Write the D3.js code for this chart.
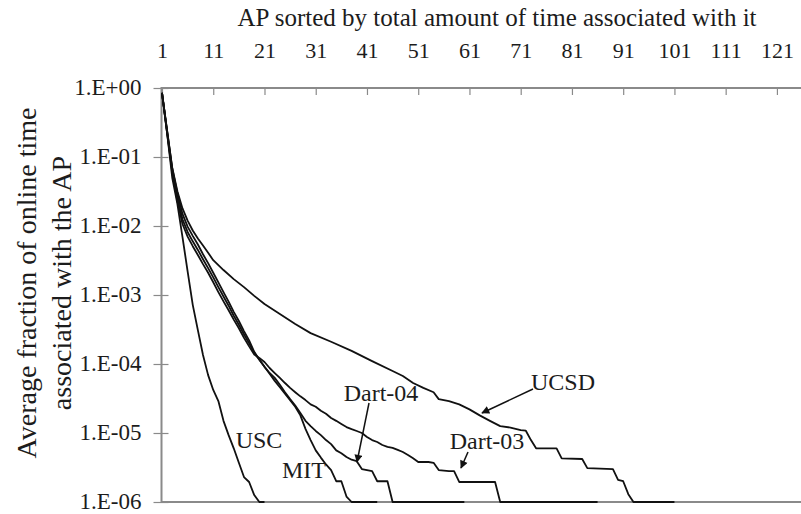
<!DOCTYPE html>
<html>
<head>
<meta charset="utf-8">
<script src="https://cdn.jsdelivr.net/npm/d3@7"></script>
<style>
  body { margin: 0; background: #fff; }
  svg { display: block; }
  svg text { font-family: "Liberation Serif", "DejaVu Serif", serif; }
</style>
</head>
<body>
<svg id="chart" width="801" height="514"></svg>
<script>
const xTicks = [1, 11, 21, 31, 41, 51, 61, 71, 81, 91, 101, 111, 121];
const yTicks = [1, 1e-1, 1e-2, 1e-3, 1e-4, 1e-5, 1e-6];

// AP rank -> average fraction of online time
const uscRank = [1, 2, 3, 4, 5, 6, 7, 8, 9, 10, 11, 12, 13, 14, 15, 16, 17, 18, 19, 20, 21];
const uscFrac = [0.85, 0.22, 0.05, 0.021, 6.9e-3, 2.2e-3, 7.2e-4, 3.1e-4, 1.35e-4, 6.9e-5, 4.2e-5,
  2.9e-5, 1.5e-5, 9.3e-6, 6.0e-6, 3.7e-6, 2.3e-6, 1.95e-6, 1.26e-6, 1e-6, 1e-6];

const mitRank = [1, 2, 3, 4, 5, 6, 7, 8, 9, 10, 11, 12, 13, 14, 15, 16, 17, 18, 19, 20,
  21, 22, 23, 24, 25, 26, 27, 28, 29, 30, 31, 32, 33, 34, 35, 36, 37, 38, 43];
const mitFrac = [0.85, 0.24, 0.068, 0.03, 0.015, 9.8e-3, 7.2e-3, 5.4e-3, 3.9e-3, 2.9e-3,
  2.1e-3, 1.52e-3, 1.1e-3, 8.0e-4, 5.7e-4, 4.2e-4, 3.0e-4, 2.2e-4, 1.5e-4, 1.15e-4,
  9.1e-5, 7.2e-5, 5.7e-5, 4.6e-5, 3.7e-5, 3.0e-5, 2.4e-5, 1.8e-5, 1.15e-5, 7.9e-6,
  5.6e-6, 4.4e-6, 3.5e-6, 2.9e-6, 2.0e-6, 2.0e-6, 1.2e-6, 1e-6, 1e-6];

const dart04Rank = [1, 2, 3, 4, 5, 6, 7, 8, 9, 10, 11, 12, 13, 14, 15, 16, 17, 18, 19, 20,
  21, 22, 23, 24, 25, 26, 27, 28, 29, 30, 31, 32, 33, 34, 35, 36, 37, 38, 39, 40,
  41, 42, 43, 44, 45, 46, 60];
const dart04Frac = [0.85, 0.23, 0.064, 0.026, 0.0125, 8.2e-3, 6.0e-3, 4.5e-3, 3.3e-3, 2.45e-3,
  1.8e-3, 1.3e-3, 9.5e-4, 7.0e-4, 5.0e-4, 3.7e-4, 2.7e-4, 2.0e-4, 1.45e-4, 1.15e-4,
  9.1e-5, 7.4e-5, 6.3e-5, 5.0e-5, 3.9e-5, 3.1e-5, 2.5e-5, 1.95e-5, 1.5e-5, 1.26e-5,
  1.07e-5, 9.3e-6, 7.9e-6, 6.9e-6, 5.6e-6, 5.1e-6, 4.5e-6, 4.1e-6, 3.9e-6, 3.0e-6,
  2.9e-6, 2.8e-6, 2.0e-6, 2.0e-6, 2.0e-6, 1e-6, 1e-6];

const dart03Rank = [1, 2, 3, 4, 5, 6, 7, 8, 9, 10, 11, 12, 13, 14, 15, 16, 17, 18, 19, 20,
  21, 22, 23, 24, 25, 26, 27, 28, 29, 30, 31, 32, 33, 34, 35, 36, 37, 38, 39, 40,
  41, 42, 43, 44, 45, 46, 47, 48, 49, 50, 51, 53, 54, 55, 57, 58, 59, 66, 67, 86];
const dart03Frac = [0.85, 0.22, 0.06, 0.023, 0.0107, 7.0e-3, 5.1e-3, 3.8e-3, 2.8e-3, 2.1e-3,
  1.53e-3, 1.1e-3, 8.1e-4, 6.0e-4, 4.4e-4, 3.3e-4, 2.4e-4, 1.8e-4, 1.37e-4, 1.22e-4,
  1.07e-4, 8.75e-5, 7.4e-5, 6.3e-5, 5.3e-5, 4.5e-5, 3.9e-5, 3.4e-5, 3.0e-5, 2.6e-5,
  2.4e-5, 2.1e-5, 1.9e-5, 1.65e-5, 1.5e-5, 1.35e-5, 1.22e-5, 1.14e-5, 1.07e-5, 1.0e-5,
  8.75e-6, 7.9e-6, 7.4e-6, 6.7e-6, 6.3e-6, 6.1e-6, 5.7e-6, 5.3e-6, 4.8e-6, 4.3e-6,
  3.8e-6, 3.8e-6, 3.7e-6, 2.9e-6, 2.8e-6, 2.8e-6, 1.95e-6, 1.95e-6, 1e-6, 1e-6];

const ucsdRank = [1, 2, 3, 4, 5, 6, 7, 8, 9, 10, 11, 13, 15, 17, 19, 21, 24, 27, 30, 34,
  38, 42, 46, 48, 50, 52, 54, 55, 57, 59, 61, 63, 65, 67, 69, 71, 72, 73, 74, 78,
  79, 83, 84, 89, 90, 91, 92, 93, 101];
const ucsdFrac = [0.85, 0.24, 0.07, 0.032, 0.018, 0.012, 8.6e-3, 6.6e-3, 5.2e-3, 4.1e-3,
  3.2e-3, 2.3e-3, 1.7e-3, 1.3e-3, 9.7e-4, 7.4e-4, 5.3e-4, 3.8e-4, 2.8e-4, 2.1e-4,
  1.55e-4, 1.1e-4, 7.9e-5, 6.7e-5, 5.3e-5, 4.5e-5, 3.9e-5, 3.1e-5, 2.9e-5, 2.6e-5,
  2.2e-5, 1.8e-5, 1.5e-5, 1.26e-5, 1.2e-5, 1.1e-5, 1.08e-5, 7.9e-6, 6.0e-6, 6.0e-6,
  4.3e-6, 4.2e-6, 3.1e-6, 3.0e-6, 2.1e-6, 2.0e-6, 1.3e-6, 1e-6, 1e-6];

const seriesNames = ["USC", "MIT", "Dart-04", "Dart-03", "UCSD"];
const seriesRanks = [uscRank, mitRank, dart04Rank, dart03Rank, ucsdRank];
const seriesFracs = [uscFrac, mitFrac, dart04Frac, dart03Frac, ucsdFrac];

const svg = d3.select("#chart");
const plotLeft = 161.5, plotTop = 88, plotBottom = 502, plotRight = 801;
const axisColor = "#8a8a8a";
const textColor = "#1c1c1c";
const serif = '"Liberation Serif", "DejaVu Serif", serif';

svg.append("rect").attr("width", 801).attr("height", 514).attr("fill", "#fff");

const x = d3.scaleLinear().domain([1, 125.7]).range([162, 801]);
const y = d3.scaleLog().domain([1, 1e-6]).range([plotTop, plotBottom]);

function fmtExp(v) {
  const e = Math.round(Math.log10(v));
  return "1.E" + (e < 0 ? "-" : "+") + String(Math.abs(e)).padStart(2, "0");
}

// top category axis
const gx = svg.append("g")
  .attr("transform", `translate(0,${plotTop})`)
  .call(d3.axisTop(x).tickValues(xTicks).tickSize(-7).tickPadding(30).tickFormat(d3.format("d")));
gx.attr("font-family", serif).attr("font-size", 22);
gx.select(".domain").remove();
gx.selectAll(".tick line").attr("stroke", axisColor).attr("stroke-width", 1.2);
gx.selectAll(".tick text").attr("fill", textColor);

// left log axis
const gy = svg.append("g")
  .attr("transform", `translate(${plotLeft},0)`)
  .call(d3.axisLeft(y).tickValues(yTicks).tickSize(8).tickPadding(12).tickFormat(fmtExp));
gy.attr("font-family", serif).attr("font-size", 23);
gy.select(".domain").remove();
gy.selectAll(".tick line").attr("x1", 7).attr("stroke", axisColor).attr("stroke-width", 1.2);
gy.selectAll(".tick text").attr("fill", textColor).attr("dy", "0.3em");

// frame lines
svg.append("path")
  .attr("d", `M${plotRight},${plotTop}H${plotLeft}V${plotBottom}H${plotRight}`)
  .attr("fill", "none")
  .attr("stroke", axisColor)
  .attr("stroke-width", 2);

// curves
const line = d3.line()
  .x(d => x(d[0]))
  .y(d => y(d[1]));

svg.append("g")
  .selectAll("path")
  .data(seriesNames.map((name, i) => ({ name, pts: d3.zip(seriesRanks[i], seriesFracs[i]) })))
  .join("path")
  .attr("d", d => line(d.pts))
  .attr("fill", "none")
  .attr("stroke", "#111")
  .attr("stroke-width", 1.8)
  .attr("stroke-linejoin", "round");

// titles
svg.append("text")
  .attr("x", 497).attr("y", 26)
  .attr("text-anchor", "middle")
  .attr("fill", textColor)
  .attr("font-family", serif)
  .attr("font-size", 25)
  .text("AP sorted by total amount of time associated with it");

const yTitle = svg.append("text")
  .attr("transform", "translate(44,283) rotate(-90)")
  .attr("text-anchor", "middle")
  .attr("fill", textColor)
  .attr("font-family", serif)
  .attr("font-size", 28);
yTitle.append("tspan").attr("x", 0).attr("dy", "-0.28em").text("Average fraction of online time");
yTitle.append("tspan").attr("x", 0).attr("dy", "1.25em").text("associated with the AP");

// annotations
svg.append("defs").append("marker")
  .attr("id", "head")
  .attr("viewBox", "0 0 10 10")
  .attr("refX", 9).attr("refY", 5)
  .attr("markerWidth", 9).attr("markerHeight", 8)
  .attr("markerUnits", "userSpaceOnUse")
  .attr("orient", "auto")
  .append("path").attr("d", "M0,0L10,5L0,10z").attr("fill", "#111");

const notes = [
  { text: "USC", tx: 259, ty: 448 },
  { text: "MIT", tx: 304, ty: 478 },
  { text: "Dart-04", tx: 381, ty: 401, ax: [369, 403, 357, 462] },
  { text: "Dart-03", tx: 487, ty: 449, ax: [468, 452, 461, 468] },
  { text: "UCSD", tx: 563, ty: 390, ax: [533, 389, 482, 413] }
];

svg.append("g")
  .attr("font-family", serif)
  .attr("font-size", 24)
  .selectAll("text")
  .data(notes)
  .join("text")
  .attr("x", d => d.tx).attr("y", d => d.ty)
  .attr("text-anchor", "middle")
  .attr("fill", textColor)
  .text(d => d.text);

svg.append("g")
  .selectAll("line")
  .data(notes.filter(d => d.ax))
  .join("line")
  .attr("x1", d => d.ax[0]).attr("y1", d => d.ax[1])
  .attr("x2", d => d.ax[2]).attr("y2", d => d.ax[3])
  .attr("stroke", "#111")
  .attr("stroke-width", 1.5)
  .attr("marker-end", "url(#head)");
</script>
</body>
</html>
